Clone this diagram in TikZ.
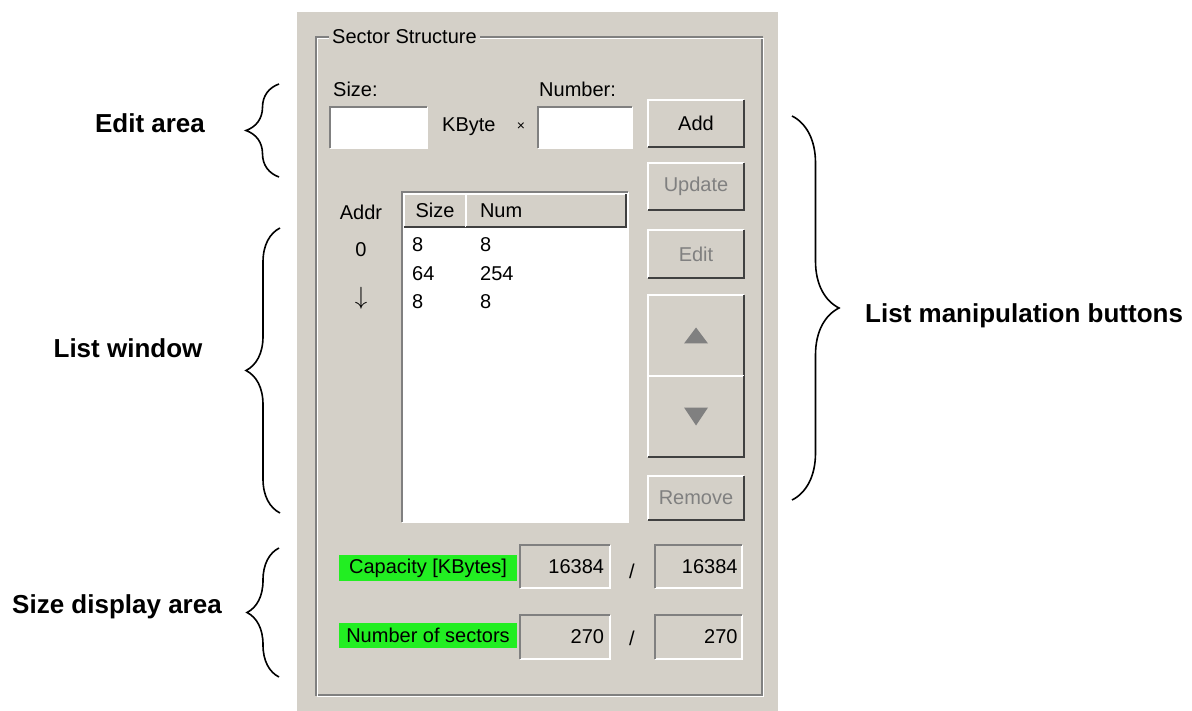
\documentclass[tikz,border=0pt]{standalone}
\usepackage{fontspec}
\setmainfont{Liberation Sans}
\usepackage{tikz}
\usetikzlibrary{positioning}
\usetikzlibrary{calc,decorations.pathreplacing}

\definecolor{panel}{HTML}{D4D0C8}
\definecolor{edgedark}{HTML}{404040}
\definecolor{edgemid}{HTML}{808080}
\definecolor{hilite}{HTML}{22EE22}

\begin{document}
\begin{tikzpicture}[x=1pt, y=-1pt,
    gui/.style={font=\fontsize{20}{24}\selectfont, inner sep=0pt},
    lbl/.style={font=\fontsize{26}{30}\selectfont\bfseries, inner sep=0pt},
    btn/.style={gui, fill=panel, minimum width=96pt},
    field/.style={gui, fill=white},
    rofield/.style={gui, fill=panel, minimum height=43pt, text width=78pt, align=right},
    greyed/.style={text=edgemid},
    marker/.style={gui, fill=hilite, minimum width=178pt},
    curly/.style={decorate, decoration={brace, amplitude=#1}, line width=1.6pt}]

    % page and panel
    \useasboundingbox (0,0) rectangle (1192,711);
    \fill[white] (0,0) rectangle (1192,711);
    \fill[panel] (297,12) rectangle (778,711);
    \draw[edgemid, line width=1.5pt] (316,37) rectangle (762,695);
    \draw[white, line width=1pt] (317.5,38.5) rectangle (763.5,696.5);
    \node [gui, fill=panel, inner xsep=3pt, inner ysep=2pt, anchor=west] (title) at (329,37) {Sector Structure};

    % Edit area
    \node [gui, anchor=west] (sizelbl) at (333,89) {Size:};
    \node [gui, anchor=west] (numlbl) at (539,89) {Number:};
    \node [field, minimum width=97pt, minimum height=41pt] (sizebox) at (378.5,127.5) {};
    \node [gui, anchor=west] (kbyte) at (442,127) {KByte};
    \node [gui, font=\fontsize{14}{16}\selectfont] (times) at (521,127) {×};
    \node [field, minimum width=94pt, minimum height=41pt] (numbox) at (585,127.5) {};

    % Buttons
    \node [btn, minimum height=47pt] (add) at (696,123.5) {Add};
    \node [btn, greyed, minimum height=47pt] (update) at (696,186.5) {Update};
    \node [btn, greyed, minimum height=48pt] (edit) at (696,254) {Edit};
    \node [btn, minimum height=81pt] (up) at (696,335.5) {};
    \node [btn, minimum height=81pt] (down) at (696,416.5) {};
    \node [btn, greyed, minimum height=44pt] (remove) at (696,498) {Remove};
    \fill[edgemid] (up.center) ++(-12,8) -- ++(24,0) -- ++(-12,-16) -- cycle;
    \fill[edgemid] (down.center) ++(-12,-9) -- ++(24,0) -- ++(-12,18) -- cycle;

    % List window
    \node [gui] (addr) at (361,212) {Addr};
    \node [gui] (zero) at (361,250) {0};
    \node [gui, font=\fontsize{24}{28}\selectfont] (dir) at (361,298) {$\downarrow$};
    \node [field, minimum width=226pt, minimum height=330pt] (list) at (515,357) {};
    \node [btn, minimum width=62pt, minimum height=33pt] (hsize) at (435,210.5) {Size};
    \node [btn, minimum width=160pt, minimum height=33pt, text width=132pt, align=left] (hnum) at (546,210.5) {Num};
    \node [gui, anchor=west] (r1s) at (412,245) {8};
    \node [gui, anchor=west] (r1n) at (480,245) {8};
    \node [gui, anchor=west] (r2s) at (412,274) {64};
    \node [gui, anchor=west] (r2n) at (480,274) {254};
    \node [gui, anchor=west] (r3s) at (412,302) {8};
    \node [gui, anchor=west] (r3n) at (480,302) {8};

    % Size display area
    \node [marker, minimum height=26pt] (caplbl) at (428,568) {Capacity [KBytes]};
    \node [rofield, minimum width=90pt] (cap1) at (565,566.5) {16384};
    \node [gui] (slash1) at (632,571) {/};
    \node [rofield, minimum width=87pt] (cap2) at (698.5,566.5) {16384};
    \node [marker, minimum height=25pt] (seclbl) at (428,635.5) {Number of sectors};
    \node [rofield, minimum width=90pt, minimum height=44pt] (sec1) at (565,637) {270};
    \node [gui] (slash2) at (632,638) {/};
    \node [rofield, minimum width=87pt, minimum height=44pt] (sec2) at (698.5,637) {270};

    % raised and sunken edges
    \foreach \b in {add,update,edit,up,down,remove,hsize,hnum} {
        \draw[white, line width=2pt] (\b.south west) |- (\b.north east);
        \draw[edgedark, line width=2pt] (\b.south west) -| (\b.north east);
    }
    \foreach \b in {sizebox,numbox,list,cap1,cap2,sec1,sec2} {
        \draw[white, line width=2pt] (\b.south west) -| (\b.north east);
        \draw[edgemid, line width=2pt] (\b.south west) |- (\b.north east);
    }

    % Labels
    \node [lbl] (editlbl) at (150,123) {Edit area};
    \node [lbl] (listlbl) at (128,348) {List window};
    \node [lbl] (sizedisp) at (117,607) {Size display area};
    \node [lbl, anchor=west] (manlbl) at (865,316) {List manipulation buttons};

    % Braces
    \coordinate (ea1) at (279,177);
    \coordinate (ea2) at (279,84);
    \coordinate (lw1) at (280,513);
    \coordinate (lw2) at (280,228);
    \coordinate (sd1) at (279,677);
    \coordinate (sd2) at (279,548);
    \coordinate (lm1) at (792,116);
    \coordinate (lm2) at (792,500);
    \draw [curly=33pt] (ea1) -- (ea2);
    \draw [curly=34pt] (lw1) -- (lw2);
    \draw [curly=32pt] (sd1) -- (sd2);
    \draw [curly=47pt] (lm1) -- (lm2);
\end{tikzpicture}
\end{document}
